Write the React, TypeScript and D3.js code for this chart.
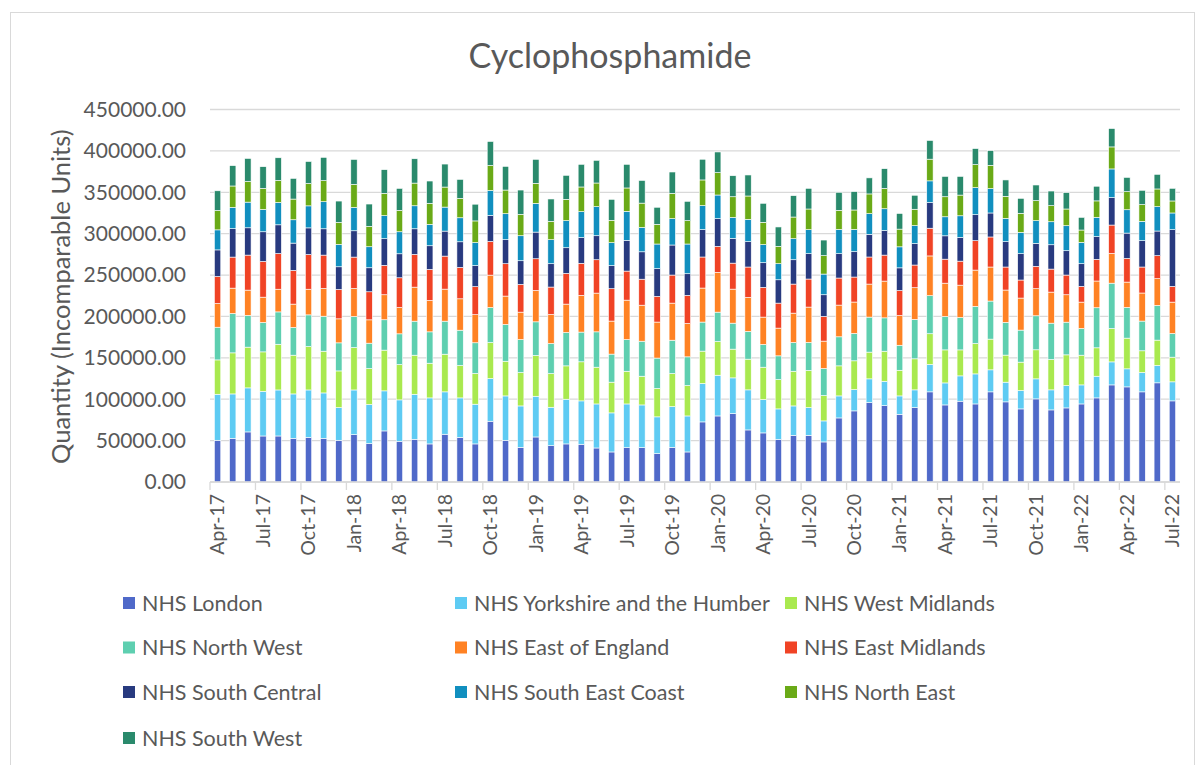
import React, { useEffect, useRef } from 'react';
import * as d3 from 'd3';

const months = [
  'Apr-17', 'May-17', 'Jun-17', 'Jul-17', 'Aug-17', 'Sep-17', 'Oct-17', 'Nov-17', 'Dec-17',
  'Jan-18', 'Feb-18', 'Mar-18', 'Apr-18', 'May-18', 'Jun-18', 'Jul-18', 'Aug-18', 'Sep-18', 'Oct-18', 'Nov-18', 'Dec-18',
  'Jan-19', 'Feb-19', 'Mar-19', 'Apr-19', 'May-19', 'Jun-19', 'Jul-19', 'Aug-19', 'Sep-19', 'Oct-19', 'Nov-19', 'Dec-19',
  'Jan-20', 'Feb-20', 'Mar-20', 'Apr-20', 'May-20', 'Jun-20', 'Jul-20', 'Aug-20', 'Sep-20', 'Oct-20', 'Nov-20', 'Dec-20',
  'Jan-21', 'Feb-21', 'Mar-21', 'Apr-21', 'May-21', 'Jun-21', 'Jul-21', 'Aug-21', 'Sep-21', 'Oct-21', 'Nov-21', 'Dec-21',
  'Jan-22', 'Feb-22', 'Mar-22', 'Apr-22', 'May-22', 'Jun-22', 'Jul-22',
];

const nhsLondon = [
  50400, 52800, 60500, 55600, 55600, 52800, 54000, 52800, 50400, 57200,
  46400, 61700, 49200, 51600, 46000, 57700, 54000, 46000, 73400, 50400,
  41900, 54400, 43900, 46000, 45600, 41100, 36300, 41500, 41500, 34300,
  41900, 36300, 72600, 79800, 82700, 62900, 59300, 51600, 56400, 56400,
  48400, 77400, 85900, 96000, 92300, 81800, 89900, 108900, 93100, 97600,
  94300, 108900, 96800, 88300, 100400, 87100, 89500, 94300, 101600, 117300,
  114900, 108900, 119800, 98000,
];
const nhsYorkshire = [
  55600, 53600, 53200, 54000, 55600, 53600, 57200, 54800, 39500, 54000,
  47200, 48400, 50000, 54400, 55600, 51200, 47600, 48000, 51600, 53600,
  50000, 49200, 46400, 54000, 52400, 53200, 47200, 52800, 51600, 44400,
  49200, 43500, 46400, 49200, 43100, 48400, 40300, 36700, 35500, 33500,
  25400, 26600, 25800, 28600, 29400, 22200, 21400, 33100, 26600, 30600,
  36300, 26600, 23800, 22200, 24200, 24200, 27000, 23000, 26200, 27800,
  21800, 23400, 21000, 23000,
];
const nhsWestMidlands = [
  41500, 49600, 49200, 47600, 55200, 46800, 52400, 50400, 44300, 51200,
  43500, 49200, 42700, 47200, 41900, 45500, 39100, 37100, 43500, 41900,
  40300, 49200, 40700, 40300, 47200, 44400, 37100, 39500, 34700, 34300,
  39900, 36700, 39100, 40700, 34700, 37100, 39100, 35500, 41900, 44800,
  30600, 36300, 34700, 32300, 36300, 31000, 37500, 37100, 39900, 31400,
  36700, 37100, 32700, 34300, 35100, 36700, 37100, 35900, 34300, 40300,
  37100, 26200, 30600, 29800,
];
const nhsNorthWest = [
  39500, 47600, 38300, 35500, 39100, 33500, 38300, 42300, 33900, 37500,
  30600, 36700, 37100, 41100, 37900, 39900, 42700, 37100, 42300, 44400,
  39900, 40700, 36300, 40300, 35900, 42700, 33900, 38300, 42300, 36700,
  40300, 34700, 35100, 35500, 31400, 33500, 27400, 28600, 34700, 33900,
  32700, 35100, 33100, 42300, 40300, 30200, 47600, 46000, 40300, 39100,
  44800, 46000, 39500, 38700, 41100, 43900, 39500, 32300, 48400, 54800,
  37100, 35900, 41900, 28600,
];
const nhsEastOfEngland = [
  28600, 30600, 30600, 30600, 27400, 28200, 31000, 33500, 29000, 33900,
  28200, 30200, 31800, 41100, 37900, 38700, 37900, 33900, 39100, 34300,
  33100, 37900, 35100, 34300, 44400, 46800, 39900, 47600, 43500, 43500,
  44800, 40300, 41100, 48000, 41100, 41100, 33100, 33500, 35500, 42700,
  33100, 38300, 37900, 39900, 44400, 35900, 38300, 48000, 40300, 39100,
  43900, 41100, 39100, 38700, 32700, 37500, 33100, 31800, 32300, 35900,
  30600, 33900, 32300, 37900,
];
const nhsEastMidlands = [
  32600, 37500, 42300, 43100, 43100, 40700, 41900, 40300, 35500, 37900,
  33900, 35500, 35900, 39500, 37500, 39900, 37900, 33900, 40700, 39100,
  33500, 38300, 33100, 37100, 38700, 40300, 39100, 35100, 31400, 31000,
  33900, 33900, 37500, 31400, 31400, 36700, 35900, 30200, 35100, 33900,
  29800, 32700, 30200, 32700, 31400, 30200, 27400, 33500, 29000, 29000,
  35500, 36300, 27800, 21800, 27000, 27800, 23800, 19000, 26200, 34300,
  28600, 31400, 27800, 19000,
];
const nhsSouthCentral = [
  32200, 34300, 33000, 35900, 34700, 33000, 32200, 31800, 27400, 31800,
  29000, 32200, 29000, 31000, 28600, 30200, 31000, 25400, 31400, 29000,
  28600, 32200, 28200, 31000, 31000, 29000, 27800, 37100, 33100, 33500,
  36300, 26200, 33100, 33500, 29800, 30600, 29800, 28200, 29400, 30600,
  26200, 29400, 30600, 27400, 29800, 27400, 25800, 31000, 28200, 28600,
  31400, 29000, 30600, 31800, 27800, 29400, 29400, 27400, 27400, 33100,
  30600, 31800, 29800, 68500,
];
const nhsSouthEastCoast = [
  24200, 25800, 31000, 27000, 27000, 28200, 26600, 32700, 27000, 28200,
  25400, 27800, 26600, 27800, 25800, 29000, 29000, 27800, 30200, 31400,
  30200, 34700, 29000, 32700, 31400, 35100, 27800, 35100, 29400, 29800,
  31800, 35900, 29000, 28600, 25400, 27000, 21800, 19400, 25400, 29000,
  25000, 29400, 27000, 25000, 26200, 25400, 21800, 26200, 23000, 26200,
  32700, 29400, 28200, 25800, 27400, 27800, 30200, 25800, 23400, 34700,
  28200, 23400, 29400, 20200,
];
const nhsNorthEast = [
  23400, 25800, 25000, 25400, 26600, 25000, 27000, 25400, 26600, 27800,
  24600, 27000, 25800, 27400, 25400, 24200, 23400, 26200, 30200, 28600,
  25800, 24200, 22200, 25800, 29800, 28600, 27000, 28200, 29400, 23800,
  30600, 28200, 31000, 27000, 25000, 28200, 27000, 21000, 26200, 25000,
  22200, 23000, 23400, 23800, 24600, 21400, 19800, 26200, 24200, 25000,
  27800, 28200, 26600, 23000, 24200, 19400, 20200, 14900, 19800, 26600,
  21800, 20200, 21400, 14500,
];
const nhsSouthWest = [
  23800, 24600, 27800, 26200, 27400, 25000, 26600, 28200, 25800, 30200,
  27000, 28600, 26600, 29400, 27000, 27800, 23000, 20200, 29000, 28600,
  29400, 29000, 27000, 29000, 27400, 27400, 25400, 28600, 27400, 20600,
  25800, 23400, 25000, 25000, 25400, 25400, 23000, 23400, 25800, 25000,
  18900, 21800, 22200, 19400, 23800, 18900, 16900, 22600, 24600, 22600,
  19400, 17700, 19800, 18100, 18900, 17700, 19800, 15300, 17700, 22200,
  17300, 17300, 17700, 15300,
];

const seriesNames = [
  'NHS London', 'NHS Yorkshire and the Humber', 'NHS West Midlands',
  'NHS North West', 'NHS East of England', 'NHS East Midlands',
  'NHS South Central', 'NHS South East Coast', 'NHS North East', 'NHS South West',
];
const seriesValues = [
  nhsLondon, nhsYorkshire, nhsWestMidlands, nhsNorthWest, nhsEastOfEngland,
  nhsEastMidlands, nhsSouthCentral, nhsSouthEastCoast, nhsNorthEast, nhsSouthWest,
];
const seriesColors = [
  '#4f69c9', '#5ecbf3', '#a9e94f', '#5ecfb0', '#ff8224',
  '#f04325', '#283a7f', '#118fbf', '#6aaa17', '#2a8a6c',
];
const yTicks = [0, 50000, 100000, 150000, 200000, 250000, 300000, 350000, 400000, 450000];

export default function App() {
  const svgRef = useRef<SVGSVGElement>(null);

  useEffect(() => {
    const svg = d3.select(svgRef.current);
    svg.selectAll('*').remove();

    const font = 'Lato, "Open Sans", sans-serif';
    const textColor = '#595959';
    const plot = { left: 210, right: 1180, top: 109.5, bottom: 482 };

    // chart frame
    svg.append('rect')
      .attr('x', 10.5).attr('y', 12.5).attr('width', 1184).attr('height', 770)
      .attr('fill', '#fff').attr('stroke', '#d9d9d9');

    svg.append('text')
      .attr('x', 610).attr('y', 68)
      .attr('text-anchor', 'middle')
      .attr('font-family', font).attr('font-size', 34)
      .attr('fill', textColor)
      .text('Cyclophosphamide');

    const x = d3.scaleBand<string>().domain(months)
      .range([plot.left, plot.right]).paddingInner(0.58).paddingOuter(0.29);
    const y = d3.scaleLinear().domain([0, 450000]).range([plot.bottom, plot.top]);

    // gridlines
    svg.append('g').selectAll('line')
      .data(yTicks).enter().append('line')
      .attr('x1', plot.left).attr('x2', plot.right)
      .attr('y1', d => y(d)).attr('y2', d => y(d))
      .attr('stroke', '#d9d9d9').attr('stroke-width', 1.3);

    svg.append('g').selectAll('text')
      .data(yTicks).enter().append('text')
      .attr('x', 186).attr('y', d => y(d))
      .attr('dy', '0.35em').attr('text-anchor', 'end')
      .attr('font-family', font).attr('font-size', 21)
      .attr('fill', textColor)
      .text(d => d3.format('.2f')(d));

    svg.append('text')
      .attr('transform', `translate(70,${(plot.top + plot.bottom) / 2 + 1}) rotate(-90)`)
      .attr('text-anchor', 'middle')
      .attr('font-family', font).attr('font-size', 25.5)
      .attr('fill', textColor)
      .text('Quantity (Incomparable Units)');

    // stacked bars
    const rows = months.map((m, i) => {
      const r: Record<string, any> = { month: m };
      seriesNames.forEach((s, j) => { r[s] = seriesValues[j][i]; });
      return r;
    });
    const stacked = d3.stack<any>().keys(seriesNames)(rows);

    svg.append('g').selectAll('g')
      .data(stacked).enter().append('g')
      .attr('fill', (_d, i) => seriesColors[i])
      .selectAll('rect')
      .data(d => d).enter().append('rect')
      .attr('x', d => x(d.data.month) as number)
      .attr('width', x.bandwidth())
      .attr('y', d => y(d[1]))
      .attr('height', d => y(d[0]) - y(d[1]))
      .attr('stroke', '#fff').attr('stroke-width', 0.6);

    // category axis
    const step = x.step();
    svg.append('line')
      .attr('x1', plot.left).attr('x2', plot.right)
      .attr('y1', plot.bottom).attr('y2', plot.bottom)
      .attr('stroke', '#d9d9d9').attr('stroke-width', 1.3);

    const tickIdx = d3.range(0, months.length, 3);
    svg.append('g').selectAll('line')
      .data(tickIdx).enter().append('line')
      .attr('x1', i => plot.left + i * step).attr('x2', i => plot.left + i * step)
      .attr('y1', plot.bottom).attr('y2', plot.bottom + 8)
      .attr('stroke', '#d9d9d9').attr('stroke-width', 1.3);

    svg.append('g').selectAll('text')
      .data(tickIdx).enter().append('text')
      .attr('transform', i => `translate(${(x(months[i]) as number) + x.bandwidth() / 2},494) rotate(-90)`)
      .attr('dy', '0.35em').attr('text-anchor', 'end')
      .attr('font-family', font).attr('font-size', 19.5)
      .attr('fill', textColor)
      .text(i => months[i]);

    // legend
    const colX = [123, 455, 785];
    const rowY = [603, 647.5, 692, 738];
    const legend = svg.append('g').selectAll('g')
      .data(seriesNames).enter().append('g')
      .attr('transform', (_d, i) => `translate(${colX[i % 3]},${rowY[Math.floor(i / 3)]})`);
    legend.append('rect')
      .attr('x', 0).attr('y', -6).attr('width', 12).attr('height', 12)
      .attr('fill', (_d, i) => seriesColors[i]);
    legend.append('text')
      .attr('x', 19).attr('y', 0).attr('dy', '0.35em')
      .attr('font-family', font).attr('font-size', 21.5)
      .attr('fill', textColor)
      .text(d => d);
  }, []);

  return (
    <div style={{ position: 'absolute', left: 0, top: 0 }}>
      <svg ref={svgRef} width={1202} height={765} style={{ display: 'block', background: '#fff' }} />
    </div>
  );
}
